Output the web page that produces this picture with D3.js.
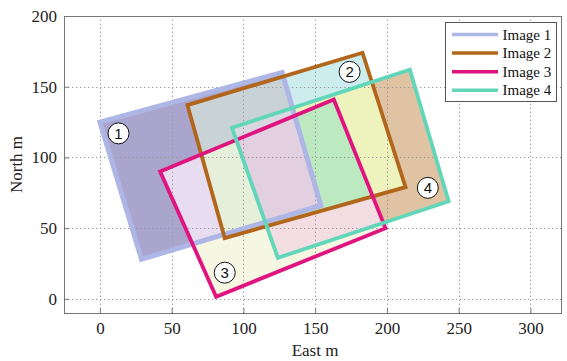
<!DOCTYPE html>
<html>
<head>
<meta charset="utf-8">
<script src="https://cdn.jsdelivr.net/npm/d3@7/dist/d3.min.js"></script>
<style>
  html, body { margin: 0; padding: 0; background: #fff; }
  svg { display: block; }
</style>
</head>
<body>
<svg id="chart" width="567" height="361"></svg>
<script>
// Footprints of four images (East, North in metres), corners in order
const image1 = [[0, 125], [127, 160], [154, 66], [29, 28]];
const image2 = [[61, 137], [183, 174], [213, 79], [87, 43]];
const image3 = [[42, 90], [163, 141], [199, 50], [81, 1.5]];
const image4 = [[92, 121], [216, 162], [243, 69], [124, 29]];

const seriesNames = ["Image 1", "Image 2", "Image 3", "Image 4"];
const outlineColors = ["#aeb6e6", "#b2661c", "#e0147e", "#62d6b8"];
const outlineWidths = [5, 3.8, 3.8, 3.8];

// Fill colour for every overlap combination (key = image numbers inside)
const overlapColors = {
  "1": "#a9a5cd", "2": "#cdeced", "3": "#f6f7e3", "4": "#e0c3a3",
  "12": "#c9d2d7", "13": "#e7dcf0", "14": "#d6cde0", "23": "#eef4dc",
  "24": "#eef2bc", "34": "#f2dee2",
  "123": "#e5efd9", "124": "#d9d7df", "134": "#e6d4e6", "234": "#bde9c0",
  "1234": "#e2cfe0"
};

// Numbered callouts
const calloutX = [13, 174, 87, 228.5];
const calloutY = [117, 160.5, 18.5, 78.5];
const calloutText = ["1", "2", "3", "4"];

const xTicks = [0, 50, 100, 150, 200, 250, 300];
const yTicks = [0, 50, 100, 150, 200];

const svg = d3.select("#chart");
const margin = { left: 64, right: 5, top: 16, bottom: 48 };
const W = 567, H = 361;

const x = d3.scaleLinear().domain([-25, 322]).range([margin.left, W - margin.right]);
const y = d3.scaleLinear().domain([-10, 200]).range([H - margin.bottom, margin.top]);

const polys = [image1, image2, image3, image4];
const line = d3.line().x(d => x(d[0])).y(d => y(d[1])).curve(d3.curveLinearClosed);

const defs = svg.append("defs");
polys.forEach((p, i) => {
  defs.append("clipPath").attr("id", "fp" + i).append("path").attr("d", line(p));
});

// Overlap fills: paint each intersection, smaller combinations first,
// so every pixel ends with the colour of exactly the set it lies in.
const fills = svg.append("g");
const subsets = [];
for (let m = 1; m < 16; m++) {
  subsets.push([0, 1, 2, 3].filter(i => m & (1 << i)));
}
subsets.sort((a, b) => a.length - b.length);
subsets.forEach(idx => {
  const key = idx.map(i => i + 1).join("");
  let g = fills;
  idx.slice(0, -1).forEach(i => { g = g.append("g").attr("clip-path", `url(#fp${i})`); });
  g.append("path")
    .attr("d", line(polys[idx[idx.length - 1]]))
    .attr("fill", overlapColors[key]);
});

// Dotted grid
const grid = svg.append("g").attr("stroke", "#9a9a9a").attr("stroke-width", 1)
  .attr("stroke-dasharray", "1.3,2.7");
grid.selectAll("line.gx").data(xTicks).join("line")
  .attr("x1", d => Math.round(x(d)) + 0.5).attr("x2", d => Math.round(x(d)) + 0.5)
  .attr("y1", y.range()[0]).attr("y2", y.range()[1]);
grid.selectAll("line.gy").data(yTicks).join("line")
  .attr("y1", d => Math.round(y(d)) + 0.5).attr("y2", d => Math.round(y(d)) + 0.5)
  .attr("x1", x.range()[0]).attr("x2", x.range()[1]);

// Outlines
svg.append("g").selectAll("path").data(polys).join("path")
  .attr("d", d => line(d))
  .attr("fill", "none")
  .attr("stroke", (d, i) => outlineColors[i])
  .attr("stroke-width", (d, i) => outlineWidths[i])
  .attr("stroke-linejoin", "miter");

// Callouts
const co = svg.append("g");
calloutText.forEach((t, i) => {
  const cx = x(calloutX[i]), cy = y(calloutY[i]);
  co.append("circle").attr("cx", cx).attr("cy", cy).attr("r", 10.5)
    .attr("fill", "#fff").attr("stroke", "#111").attr("stroke-width", 1);
  co.append("text").attr("x", cx).attr("y", cy + 5.5)
    .attr("text-anchor", "middle")
    .attr("font-family", "Liberation Sans, Arial, sans-serif")
    .attr("font-size", 15).attr("fill", "#111").text(t);
});

// Axes with inward ticks and a box frame
const frameColor = "#777";
const xAxis = svg.append("g").attr("transform", `translate(0,${y.range()[0]})`)
  .call(d3.axisBottom(x).tickValues(xTicks).tickSize(-5).tickPadding(9).tickFormat(d3.format("d")));
const yAxis = svg.append("g").attr("transform", `translate(${x.range()[0]},0)`)
  .call(d3.axisLeft(y).tickValues(yTicks).tickSize(-5).tickPadding(7).tickFormat(d3.format("d")));
[xAxis, yAxis].forEach(a => {
  a.select(".domain").remove();
  a.selectAll(".tick line").attr("stroke", frameColor);
  a.selectAll(".tick text")
    .attr("font-family", "Liberation Serif, Times New Roman, serif")
    .attr("font-size", 17).attr("fill", "#222");
});
svg.append("rect")
  .attr("x", x.range()[0] + 0.5).attr("y", y.range()[1] + 0.5)
  .attr("width", x.range()[1] - x.range()[0] - 1)
  .attr("height", y.range()[0] - y.range()[1])
  .attr("fill", "none").attr("stroke", frameColor).attr("stroke-width", 1);

// Axis titles
svg.append("text").attr("x", 315).attr("y", 356).attr("text-anchor", "middle")
  .attr("font-family", "Liberation Serif, Times New Roman, serif")
  .attr("font-size", 17).attr("fill", "#222").text("East m");
svg.append("text").attr("transform", "translate(22,164.5) rotate(-90)")
  .attr("text-anchor", "middle")
  .attr("font-family", "Liberation Serif, Times New Roman, serif")
  .attr("font-size", 17).attr("fill", "#222").text("North m");

// Legend
const lg = svg.append("g").attr("transform", "translate(445.5,22.5)");
lg.append("rect").attr("width", 111).attr("height", 79)
  .attr("fill", "#fff").attr("stroke", "#555").attr("stroke-width", 1);
seriesNames.forEach((n, i) => {
  const ly = 12 + i * 18.6;
  lg.append("line").attr("x1", 6.5).attr("x2", 52.5).attr("y1", ly).attr("y2", ly)
    .attr("stroke", outlineColors[i]).attr("stroke-width", 3.5);
  lg.append("text").attr("x", 57).attr("y", ly + 5)
    .attr("font-family", "Liberation Serif, Times New Roman, serif")
    .attr("font-size", 15).attr("fill", "#111").text(n);
});
</script>
</body>
</html>
